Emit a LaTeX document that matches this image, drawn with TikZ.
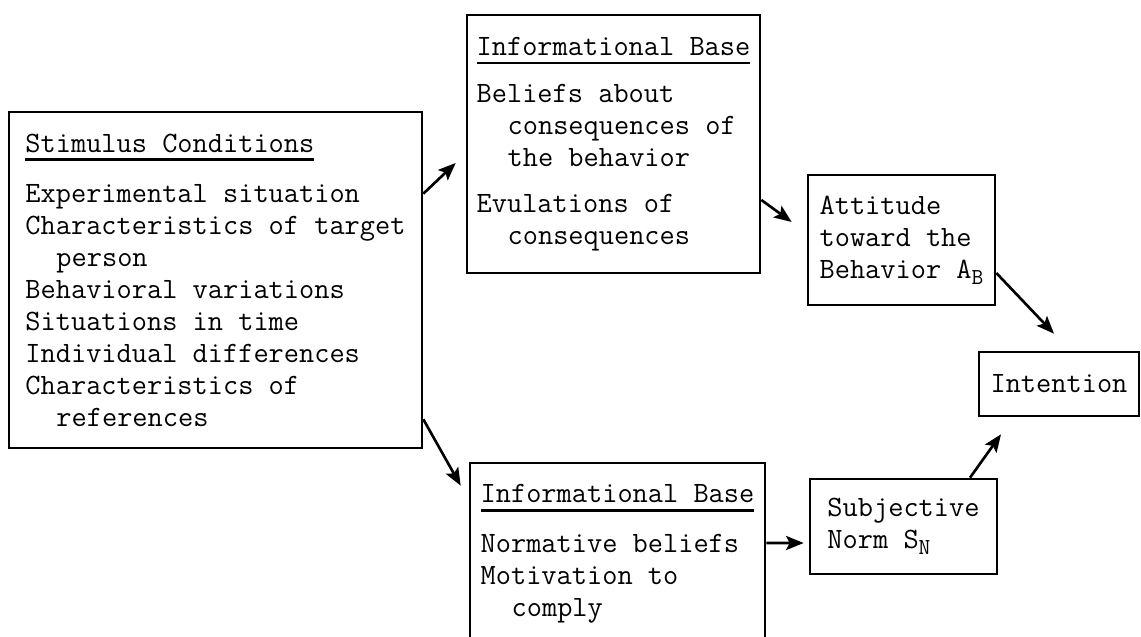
\documentclass[tikz,border=0pt]{standalone}
\usepackage{tikz}
\usetikzlibrary{arrows.meta}
\newcommand{\boxfont}{\ttfamily\fontsize{16.8}{18.2}\selectfont}
\newcommand{\ind}{\hspace*{1.05em}}
\newcommand{\headline}[1]{\setbox0\hbox{#1}\rlap{\rule[-5pt]{\wd0}{1.5pt}}\box0}
\newcommand{\lowsub}[1]{\raisebox{-3.5pt}{\fontsize{13}{13}\selectfont #1}}
\tikzstyle{block} = [rectangle, draw, line width=1.5pt, align=left, font=\boxfont, inner sep=0pt]
\tikzstyle{line} = [draw, line width=1.5pt, -{Stealth[length=10pt, width=8pt, inset=2pt]}]

\begin{document}
\begin{tikzpicture}
    \useasboundingbox (0,0) rectangle (22.82,-12.74);
    \clip (0,0) rectangle (22.82,-12.74);
    % Place nodes
    \node [block, minimum width=8.26cm, minimum height=6.72cm] (stim) at (4.31,-5.60) {\headline{Stimulus Conditions}\\[0.36cm]
        Experimental situation\\ Characteristics of target\\ \ind person\\ Behavioral variations\\
        Situations in time\\ Individual differences\\ Characteristics of\\ \ind references};
    \node [block, right of=stim, node distance=7.96cm, yshift=2.72cm, minimum width=5.86cm, minimum height=5.16cm] (infoatt) {\headline{Informational Base}\\[0.3cm]
        Beliefs about\\ \ind consequences of\\ \ind the behavior\\[0.28cm] Evulations of\\ \ind consequences};
    \node [block, right of=infoatt, node distance=5.76cm, yshift=-1.92cm, minimum width=3.74cm, minimum height=2.60cm] (att) {Attitude\\ toward the\\ Behavior A\lowsub{B}};
    \node [block, right of=att, node distance=3.15cm, yshift=-2.88cm, minimum width=3.20cm, minimum height=1.28cm] (intent) {Intention};
    \node [block, below of=att, node distance=5.73cm, xshift=0.04cm, minimum width=3.74cm, minimum height=1.90cm] (norm) {Subjective\\ Norm S\lowsub{N}};
    \node [block, left of=norm, node distance=5.72cm, yshift=-0.55cm, minimum width=5.90cm, minimum height=3.64cm] (infonorm) {\headline{Informational Base}\\[0.36cm]
        Normative beliefs\\ Motivation to\\ \ind comply};
    % Draw edges
    \path [line] ([yshift=-1.66cm]stim.north east) -- ([xshift=-0.2cm, yshift=-0.38cm]infoatt.west);
    \path [line] ([yshift=0.60cm]stim.south east) -- ([xshift=-0.16cm, yshift=-0.48cm]infonorm.north west);
    \path [line] ([yshift=-1.12cm]infoatt.east) -- ([xshift=-0.30cm, yshift=0.36cm]att.west);
    \path [line] ([yshift=0.22cm]infonorm.east) -- ([xshift=-0.10cm, yshift=-0.33cm]norm.west);
    \path [line] ([yshift=-0.66cm]att.east) -- ([xshift=-0.10cm, yshift=0.34cm]intent.north);
    \path [line] ([xshift=1.33cm]norm.north) -- ([xshift=-1.16cm, yshift=-0.34cm]intent.south);
\end{tikzpicture}
\end{document}
